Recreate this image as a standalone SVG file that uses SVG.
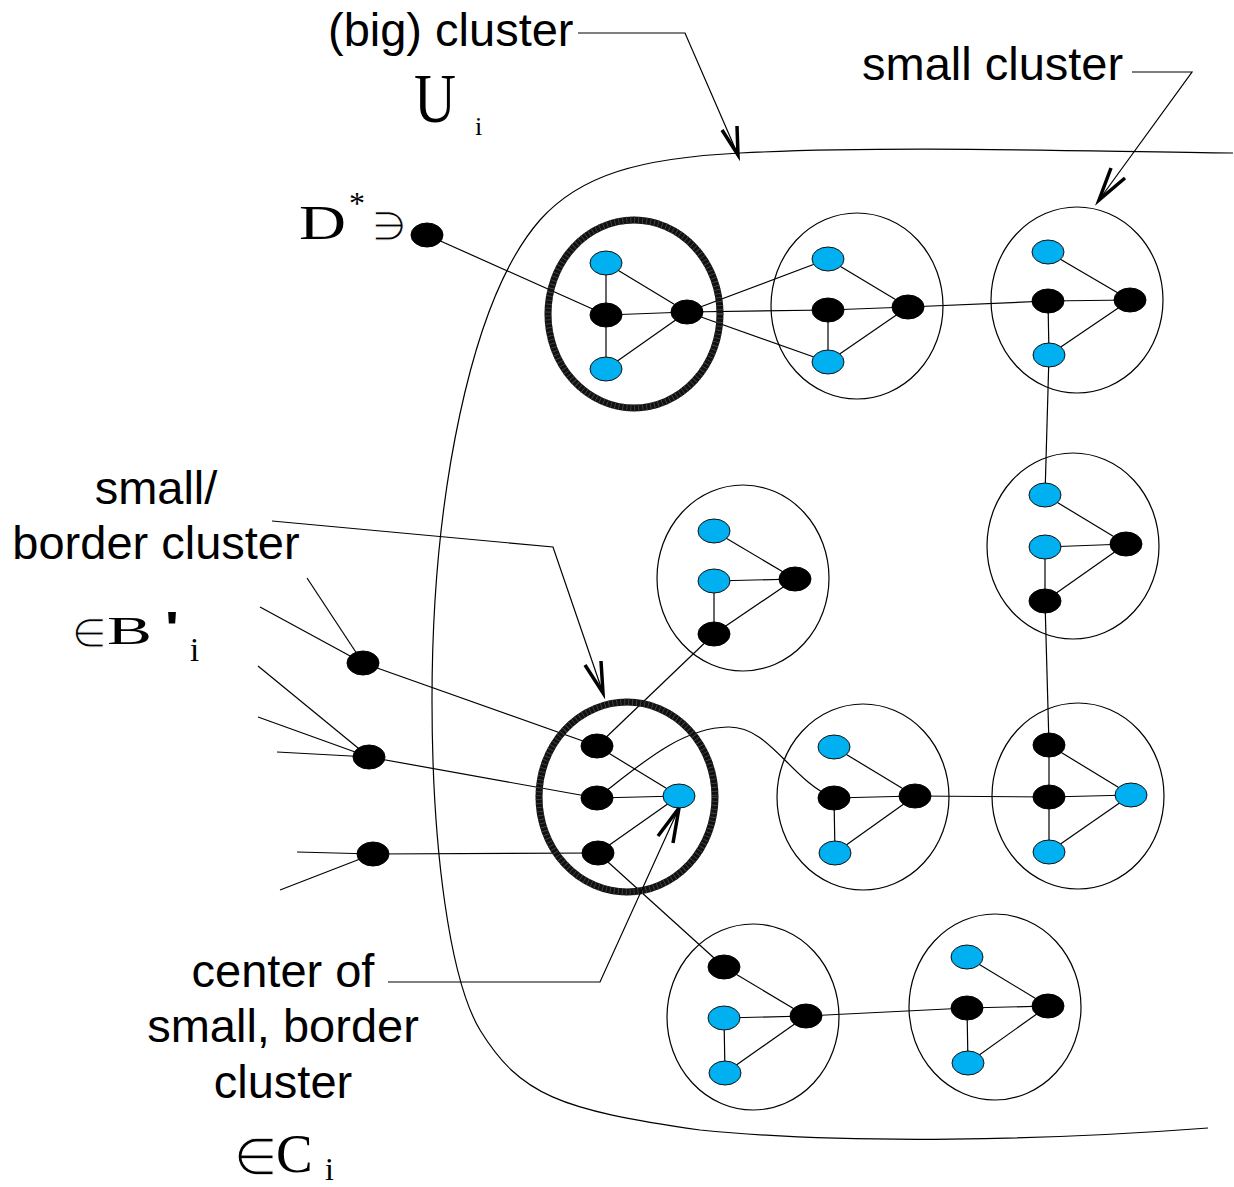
<svg xmlns="http://www.w3.org/2000/svg" width="1234" height="1187" viewBox="0 0 1234 1187">
  <style>
    .bg { fill: #ffffff; }
    .hull { fill: none; stroke: #000; stroke-width: 1.2; }
    .ring { fill: none; stroke: #000; stroke-width: 1.2; }
    .thick { fill: none; stroke: #111; stroke-width: 7; }
    .thick-tex { fill: none; stroke: #4a4a4a; stroke-width: 7; stroke-dasharray: 0.8 3.2; }
    .k { fill: #000; stroke: #000; stroke-width: 1; }
    .b { fill: #00b0f0; stroke: #111; stroke-width: 1; }
    .e { fill: none; stroke: #000; stroke-width: 1.2; }
    .lead { fill: none; stroke: #000; stroke-width: 1.2; }
    .head { fill: none; stroke: #000; stroke-width: 3.5; stroke-linejoin: miter; }
    .sans { font-family: "Liberation Sans", Arial, sans-serif; font-size: 47px; fill: #000; }
    .serif { font-family: "Liberation Serif", "DejaVu Serif", serif; fill: #000; }
    .sym { font-family: "DejaVu Sans", "Liberation Serif", serif; fill: #000; }
    /* thin white outline drawn over the fill keeps the set symbols light */
    .thin { stroke: #fff; stroke-width: 1.1; paint-order: fill; }
  </style>

  <rect class="bg" x="0" y="0" width="1234" height="1187"/>

  <!-- outline of the big cluster U_i -->
  <g id="big-cluster">
    <path class="hull" d="M1233,153 C1100,152 900,145 740,153 C640,158 580,175 540,220 C470,300 432,500 432,700 C432,850 450,980 480,1030 C520,1095 560,1110 700,1130 C850,1145 1050,1140 1208,1128"/>
  </g>

  <!-- all edges between vertices -->
  <g id="connectors">
    <!-- D* vertex into the first thick cluster -->
    <line class="e" x1="427" y1="235" x2="606" y2="315"/>
    <!-- thick cluster A -->
    <line class="e" x1="606" y1="263" x2="606" y2="315"/>
    <line class="e" x1="606" y1="315" x2="606" y2="369"/>
    <line class="e" x1="606" y1="263" x2="687" y2="312"/>
    <line class="e" x1="606" y1="315" x2="687" y2="312"/>
    <line class="e" x1="606" y1="369" x2="687" y2="312"/>
    <!-- A to cluster 2 -->
    <line class="e" x1="687" y1="312" x2="828" y2="259"/>
    <line class="e" x1="687" y1="312" x2="828" y2="310"/>
    <line class="e" x1="687" y1="312" x2="828" y2="362"/>
    <!-- cluster 2 -->
    <line class="e" x1="828" y1="259" x2="908" y2="307"/>
    <line class="e" x1="828" y1="310" x2="908" y2="307"/>
    <line class="e" x1="828" y1="310" x2="828" y2="362"/>
    <line class="e" x1="828" y1="362" x2="908" y2="307"/>
    <line class="e" x1="908" y1="307" x2="1048" y2="301"/>
    <!-- cluster 3 -->
    <line class="e" x1="1048" y1="252" x2="1130" y2="300"/>
    <line class="e" x1="1048" y1="301" x2="1130" y2="300"/>
    <line class="e" x1="1048" y1="301" x2="1049" y2="355"/>
    <line class="e" x1="1049" y1="355" x2="1130" y2="300"/>
    <line class="e" x1="1049" y1="355" x2="1045" y2="495"/>
    <!-- cluster 4 -->
    <line class="e" x1="1045" y1="495" x2="1126" y2="544"/>
    <line class="e" x1="1045" y1="547" x2="1126" y2="544"/>
    <line class="e" x1="1045" y1="547" x2="1045" y2="601"/>
    <line class="e" x1="1045" y1="601" x2="1126" y2="544"/>
    <line class="e" x1="1045" y1="601" x2="1049" y2="745"/>
    <!-- cluster 5 -->
    <line class="e" x1="1049" y1="745" x2="1049" y2="797"/>
    <line class="e" x1="1049" y1="797" x2="1049" y2="852"/>
    <line class="e" x1="1049" y1="745" x2="1131" y2="795"/>
    <line class="e" x1="1049" y1="797" x2="1131" y2="795"/>
    <line class="e" x1="1049" y1="852" x2="1131" y2="795"/>
    <!-- cluster 6 -->
    <line class="e" x1="915" y1="796" x2="1049" y2="797"/>
    <line class="e" x1="834" y1="747" x2="915" y2="796"/>
    <line class="e" x1="834" y1="798" x2="915" y2="796"/>
    <line class="e" x1="834" y1="798" x2="835" y2="853"/>
    <line class="e" x1="835" y1="853" x2="915" y2="796"/>
    <!-- thick cluster B -->
    <path class="e" d="M597,798 C640,765 680,728 728,727 C770,726 790,780 834,798"/>
    <line class="e" x1="597" y1="746" x2="679" y2="796"/>
    <line class="e" x1="597" y1="798" x2="679" y2="796"/>
    <line class="e" x1="598" y1="853" x2="679" y2="796"/>
    <line class="e" x1="597" y1="746" x2="714" y2="634"/>
    <line class="e" x1="598" y1="853" x2="724" y2="967"/>
    <!-- cluster 7 -->
    <line class="e" x1="714" y1="531" x2="795" y2="579"/>
    <line class="e" x1="714" y1="581" x2="795" y2="579"/>
    <line class="e" x1="714" y1="581" x2="714" y2="634"/>
    <line class="e" x1="714" y1="634" x2="795" y2="579"/>
    <!-- cluster 8 -->
    <line class="e" x1="724" y1="967" x2="806" y2="1016"/>
    <line class="e" x1="724" y1="1018" x2="806" y2="1016"/>
    <line class="e" x1="724" y1="1018" x2="725" y2="1073"/>
    <line class="e" x1="725" y1="1073" x2="806" y2="1016"/>
    <line class="e" x1="806" y1="1016" x2="967" y2="1008"/>
    <!-- cluster 9 -->
    <line class="e" x1="967" y1="957" x2="1048" y2="1006"/>
    <line class="e" x1="967" y1="1008" x2="1048" y2="1006"/>
    <line class="e" x1="967" y1="1008" x2="968" y2="1063"/>
    <line class="e" x1="968" y1="1063" x2="1048" y2="1006"/>
    <!-- outside vertices feeding thick cluster B -->
    <line class="e" x1="363" y1="663" x2="597" y2="746"/>
    <line class="e" x1="369" y1="757" x2="597" y2="798"/>
    <line class="e" x1="373" y1="854" x2="598" y2="853"/>
    <line class="e" x1="307" y1="578" x2="363" y2="663"/>
    <line class="e" x1="260" y1="607" x2="363" y2="663"/>
    <line class="e" x1="258" y1="666" x2="369" y2="757"/>
    <line class="e" x1="258" y1="717" x2="369" y2="757"/>
    <line class="e" x1="277" y1="752" x2="369" y2="757"/>
    <line class="e" x1="297" y1="852" x2="373" y2="854"/>
    <line class="e" x1="280" y1="890" x2="373" y2="854"/>
  </g>

  <!-- vertices outside the small clusters -->
  <g id="vertex-dstar"><ellipse class="k" cx="427" cy="235" rx="16" ry="12"/></g>
  <g id="vertex-out-1"><ellipse class="k" cx="363" cy="663" rx="16" ry="12"/></g>
  <g id="vertex-out-2"><ellipse class="k" cx="369" cy="757" rx="16" ry="12"/></g>
  <g id="vertex-out-3"><ellipse class="k" cx="373" cy="854" rx="16" ry="12"/></g>

  <!-- small clusters -->
  <g id="cluster-a">
    <ellipse class="thick" cx="634" cy="314" rx="86" ry="94"/>
    <ellipse class="thick-tex" cx="634" cy="314" rx="86" ry="94"/>
    <ellipse class="b" cx="606" cy="263" rx="16" ry="12"/>
    <ellipse class="k" cx="606" cy="315" rx="16" ry="12"/>
    <ellipse class="b" cx="606" cy="369" rx="16" ry="12"/>
    <ellipse class="k" cx="687" cy="312" rx="16" ry="12"/>
  </g>
  <g id="cluster-2">
    <ellipse class="ring" cx="857" cy="306" rx="86" ry="93"/>
    <ellipse class="b" cx="828" cy="259" rx="16" ry="12"/>
    <ellipse class="k" cx="828" cy="310" rx="16" ry="12"/>
    <ellipse class="b" cx="828" cy="362" rx="16" ry="12"/>
    <ellipse class="k" cx="908" cy="307" rx="16" ry="12"/>
  </g>
  <g id="cluster-3">
    <ellipse class="ring" cx="1077" cy="300" rx="86" ry="93"/>
    <ellipse class="b" cx="1048" cy="252" rx="16" ry="12"/>
    <ellipse class="k" cx="1048" cy="301" rx="16" ry="12"/>
    <ellipse class="b" cx="1049" cy="355" rx="16" ry="12"/>
    <ellipse class="k" cx="1130" cy="300" rx="16" ry="12"/>
  </g>
  <g id="cluster-4">
    <ellipse class="ring" cx="1073" cy="546" rx="86" ry="93"/>
    <ellipse class="b" cx="1045" cy="495" rx="16" ry="12"/>
    <ellipse class="b" cx="1045" cy="547" rx="16" ry="12"/>
    <ellipse class="k" cx="1126" cy="544" rx="16" ry="12"/>
    <ellipse class="k" cx="1045" cy="601" rx="16" ry="12"/>
  </g>
  <g id="cluster-5">
    <ellipse class="ring" cx="1078" cy="796" rx="86" ry="93"/>
    <ellipse class="k" cx="1049" cy="745" rx="16" ry="12"/>
    <ellipse class="k" cx="1049" cy="797" rx="16" ry="12"/>
    <ellipse class="b" cx="1131" cy="795" rx="16" ry="12"/>
    <ellipse class="b" cx="1049" cy="852" rx="16" ry="12"/>
  </g>
  <g id="cluster-6">
    <ellipse class="ring" cx="863" cy="797" rx="86" ry="93"/>
    <ellipse class="b" cx="834" cy="747" rx="16" ry="12"/>
    <ellipse class="k" cx="834" cy="798" rx="16" ry="12"/>
    <ellipse class="b" cx="835" cy="853" rx="16" ry="12"/>
    <ellipse class="k" cx="915" cy="796" rx="16" ry="12"/>
  </g>
  <g id="cluster-7">
    <ellipse class="ring" cx="743" cy="578" rx="86" ry="93"/>
    <ellipse class="b" cx="714" cy="531" rx="16" ry="12"/>
    <ellipse class="b" cx="714" cy="581" rx="16" ry="12"/>
    <ellipse class="k" cx="795" cy="579" rx="16" ry="12"/>
    <ellipse class="k" cx="714" cy="634" rx="16" ry="12"/>
  </g>
  <g id="cluster-b">
    <ellipse class="thick" cx="627" cy="797" rx="88" ry="95"/>
    <ellipse class="thick-tex" cx="627" cy="797" rx="88" ry="95"/>
    <ellipse class="k" cx="597" cy="746" rx="16" ry="12"/>
    <ellipse class="k" cx="597" cy="798" rx="16" ry="12"/>
    <ellipse class="b" cx="679" cy="796" rx="16" ry="12"/>
    <ellipse class="k" cx="598" cy="853" rx="16" ry="12"/>
  </g>
  <g id="cluster-8">
    <ellipse class="ring" cx="753" cy="1017" rx="86" ry="93"/>
    <ellipse class="k" cx="724" cy="967" rx="16" ry="12"/>
    <ellipse class="b" cx="724" cy="1018" rx="16" ry="12"/>
    <ellipse class="k" cx="806" cy="1016" rx="16" ry="12"/>
    <ellipse class="b" cx="725" cy="1073" rx="16" ry="12"/>
  </g>
  <g id="cluster-9">
    <ellipse class="ring" cx="995" cy="1007" rx="86" ry="93"/>
    <ellipse class="b" cx="967" cy="957" rx="16" ry="12"/>
    <ellipse class="k" cx="967" cy="1008" rx="16" ry="12"/>
    <ellipse class="b" cx="968" cy="1063" rx="16" ry="12"/>
    <ellipse class="k" cx="1048" cy="1006" rx="16" ry="12"/>
  </g>

  <!-- callouts -->
  <g id="label-big-cluster">
    <text class="sans" x="328" y="46">(big) cluster</text>
    <polyline class="lead" points="578,33 685,33 738,155"/>
    <polyline class="head" points="722,130 738,155 737,126"/>
    <text class="serif" x="414" y="122" font-size="69" textLength="42" lengthAdjust="spacingAndGlyphs">U</text>
    <text class="serif" x="475" y="135" font-size="26">i</text>
  </g>
  <g id="label-small-cluster">
    <text class="sans" x="862" y="80">small cluster</text>
    <polyline class="lead" points="1132,72 1192,72 1099,200"/>
    <polyline class="head" points="1111,168 1099,200 1125,178"/>
  </g>
  <g id="label-dstar">
    <text class="serif" x="299" y="239" font-size="48" textLength="47" lengthAdjust="spacingAndGlyphs">D</text>
    <text class="serif" x="349" y="214" font-size="32">*</text>
    <text class="sym thin" x="372" y="240" font-size="40">∋</text>
  </g>
  <g id="label-border-cluster">
    <text class="sans" x="156" y="504" text-anchor="middle">small/</text>
    <text class="sans" x="156" y="559" text-anchor="middle">border cluster</text>
    <polyline class="lead" points="272,521 553,547 603,693"/>
    <polyline class="head" points="585,665 603,693 601,661"/>
    <text class="sym thin" x="72" y="647" font-size="40">∈</text>
    <text class="serif" x="107" y="644" font-size="41" textLength="45" lengthAdjust="spacingAndGlyphs">B</text>
    <text class="sans" x="165" y="644" font-size="45" font-weight="bold" textLength="14" lengthAdjust="spacingAndGlyphs">'</text>
    <text class="serif" x="190" y="661" font-size="33">i</text>
  </g>
  <g id="label-center">
    <text class="sans" x="283" y="987" text-anchor="middle">center of</text>
    <text class="sans" x="283" y="1042" text-anchor="middle">small, border</text>
    <text class="sans" x="283" y="1098" text-anchor="middle">cluster</text>
    <polyline class="lead" points="388,982 600,982 679,808"/>
    <polyline class="head" points="658,836 679,808 673,843"/>
    <text class="sym thin" x="234" y="1174" font-size="50">∈</text>
    <text class="serif" x="276" y="1172" font-size="55">C</text>
    <text class="serif" x="325" y="1180" font-size="32">i</text>
  </g>
</svg>
